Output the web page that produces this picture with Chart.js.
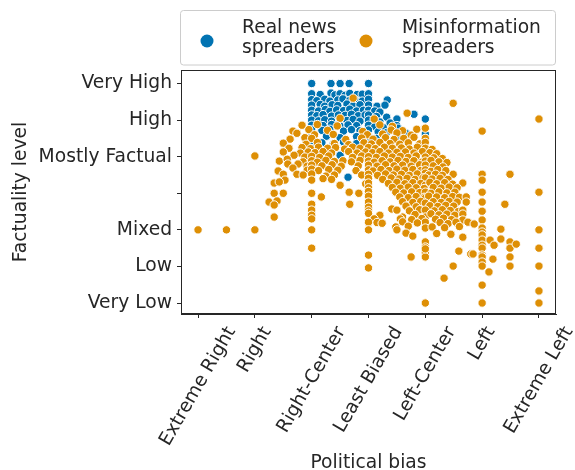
<!DOCTYPE html>
<html><head><meta charset="utf-8">
<script src="https://cdn.jsdelivr.net/npm/chart.js@4.4.1/dist/chart.umd.min.js"></script>
<style>html,body{margin:0;padding:0;background:#fff}#wrap{width:575px;height:470px;position:relative}</style>
</head><body><div id="wrap"><canvas id="c" width="575" height="470" style="width:575px;height:470px"></canvas></div>
<script>
const xTickLabels = ['Extreme Right','Right','Right-Center','Least Biased','Left-Center','Left','Extreme Left'];
const yTickLabels = ['Very Low','Low','Mixed','','Mostly Factual','High','Very High'];
const seriesLabels = ['Real news\nspreaders','Misinformation\nspreaders'];
const xTitle = 'Political bias';
const yTitle = 'Factuality level';

const realPoints = [
[2.0,6.0],[2.34,6.0],[2.5,6.0],[2.66,6.0],[3.0,6.0],
[2.0,5.72],[2.15,5.7],[2.34,5.74],[2.41,5.69],[2.5,5.72],[2.59,5.68],[2.67,5.73],[2.8,5.7],[2.89,5.71],[3.0,5.72],
[2.0,5.56],[2.09,5.53],[2.23,5.57],[2.32,5.52],[2.46,5.55],[2.55,5.58],[2.67,5.54],[2.76,5.56],[2.89,5.52],[3.0,5.57],[3.33,5.55],
[2.0,5.41],[2.15,5.43],[2.23,5.38],[2.36,5.42],[2.46,5.4],[2.62,5.44],[2.73,5.39],[2.85,5.42],[3.0,5.41],[3.15,5.38],[3.29,5.41],
[2.0,5.27],[2.12,5.25],[2.24,5.29],[2.32,5.24],[2.44,5.28],[2.56,5.26],[2.67,5.3],[2.79,5.25],[2.91,5.27],[3.0,5.27],[3.11,5.25],[3.2,5.22],
[2.0,5.14],[2.09,5.12],[2.2,5.15],[2.35,5.11],[2.47,5.14],[2.59,5.13],[2.7,5.16],[2.82,5.12],[2.94,5.14],[3.0,5.14],[3.14,5.1],[3.32,5.08],[3.5,5.03],[3.8,5.16],
[2.0,5.0],[2.12,4.98],[2.23,5.01],[2.35,4.97],[2.5,5.0],[2.62,4.99],[2.73,5.02],[2.85,4.97],[3.0,5.0],[3.2,4.95],[3.38,4.92],[3.5,4.85],[4.0,5.03],
[2.0,4.86],[2.2,4.85],[2.35,4.88],[2.5,4.84],[2.64,4.87],[2.79,4.85],[3.0,4.86],[3.11,4.82],[3.26,4.8],[3.52,4.78],
[2.0,4.73],[2.18,4.72],[2.32,4.75],[2.56,4.7],[2.7,4.74],[2.85,4.71],[3.0,4.73],[3.17,4.68],[3.32,4.66],[3.5,4.55],[3.66,4.64],[4.0,4.62],
[2.0,4.55],[2.26,4.56],[2.5,4.52],[2.79,4.55],[3.0,4.56],[3.14,4.5],[4.0,4.5],
[2.0,4.37],[2.18,4.38],[2.38,4.35],[2.56,4.4],[2.79,4.36],[3.0,4.38],
[2.0,4.22],[2.5,4.04],[2.64,3.44],[2.32,4.15],[4.0,4.04],[3.0,4.2]
];

const misPoints = [
[2.73,5.6],[4.49,5.46],[3.68,5.19],[2.5,5.05],[3.1,5.03],[6.0,5.03],[5.0,4.7],
[1.83,4.86],[2.1,4.88],[2.45,4.84],[3.2,4.87],[3.42,4.83],
[1.67,4.7],[1.95,4.74],[2.28,4.72],[2.9,4.69],[3.4,4.73],[3.6,4.71],[3.85,4.75],[4.0,4.78],
[1.74,4.64],[2.05,4.6],[2.38,4.61],[2.98,4.6],[3.25,4.62],[3.5,4.65],[3.75,4.59],
[1.62,4.48],[1.88,4.52],[2.0,4.5],[2.6,4.47],[2.88,4.51],[3.08,4.48],[3.3,4.52],[3.45,4.47],[3.62,4.5],[3.8,4.53],[4.0,4.5],
[1.5,4.37],[1.9,4.34],[2.1,4.39],[2.4,4.36],[2.65,4.33],[2.92,4.38],[3.05,4.35],[3.2,4.39],[3.38,4.36],[3.55,4.34],[3.7,4.38],[3.9,4.35],[4.0,4.39],
[1.6,4.23],[1.83,4.25],[1.98,4.22],[2.12,4.26],[2.28,4.23],[2.42,4.25],[2.58,4.21],[2.72,4.26],[2.85,4.23],[3.0,4.25],[3.12,4.22],[3.28,4.26],[3.42,4.23],[3.58,4.24],[3.72,4.21],[3.86,4.26],[4.0,4.23],[4.12,4.2],
[1.5,4.13],[1.8,4.1],[1.94,4.13],[2.06,4.11],[2.2,4.14],[2.35,4.1],[2.65,4.14],[2.8,4.1],[2.95,4.13],[3.07,4.11],[3.2,4.14],[3.35,4.1],[3.5,4.12],[3.65,4.13],[3.8,4.1],[3.95,4.14],[4.08,4.11],[4.2,4.08],
[1.0,4.02],[1.69,4.04],[1.88,3.99],[2.0,4.01],[2.14,3.98],[2.3,4.02],[2.72,3.98],[2.88,4.02],[3.0,4.0],[3.14,3.98],[3.28,4.02],[3.42,3.99],[3.56,4.01],[3.7,3.98],[3.84,4.02],[4.0,3.99],[4.15,3.97],[4.3,3.95],
[1.43,3.88],[1.57,3.93],[1.85,3.86],[2.0,3.89],[2.1,3.85],[2.25,3.9],[2.4,3.87],[2.55,3.89],[2.7,3.86],[2.85,3.9],[3.0,3.88],[3.1,3.85],[3.24,3.89],[3.38,3.86],[3.52,3.9],[3.66,3.87],[3.8,3.89],[3.94,3.85],[4.0,3.88],[4.1,3.9],[4.24,3.86],[4.38,3.84],
[1.58,3.8],[1.76,3.8],[1.92,3.74],[2.0,3.77],[2.18,3.75],[2.36,3.78],[2.52,3.74],[2.82,3.75],[3.0,3.77],[3.15,3.74],[3.3,3.78],[3.45,3.75],[3.6,3.77],[3.75,3.74],[3.9,3.78],[4.0,3.77],[4.14,3.75],[4.31,3.72],
[1.41,3.61],[1.67,3.69],[1.92,3.63],[2.0,3.66],[2.12,3.62],[2.3,3.65],[2.46,3.63],[2.78,3.62],[3.0,3.64],[3.08,3.61],[3.22,3.65],[3.36,3.62],[3.5,3.66],[3.64,3.63],[3.78,3.65],[3.92,3.62],[4.0,3.64],[4.1,3.6],[4.22,3.65],[4.36,3.62],
[1.5,3.52],[1.74,3.52],[1.85,3.5],[2.0,3.53],[2.25,3.47],[2.4,3.5],[2.88,3.5],[3.0,3.52],[3.16,3.49],[3.3,3.53],[3.44,3.5],[3.58,3.52],[3.72,3.49],[3.86,3.53],[4.0,3.55],[4.06,3.5],[4.18,3.52],[4.3,3.49],[4.49,3.52],[5.0,3.52],[5.49,3.52],
[1.34,3.28],[1.53,3.36],[1.43,3.31],[2.0,3.36],[2.2,3.4],[2.35,3.38],[3.0,3.41],[3.25,3.38],[3.4,3.42],[3.54,3.39],[3.68,3.41],[3.82,3.38],[3.96,3.42],[4.0,3.42],[4.12,3.39],[4.26,3.41],[4.4,3.38],[5.0,3.36],
[2.5,3.22],[2.95,3.26],[3.0,3.28],[3.35,3.27],[3.5,3.3],[3.64,3.26],[3.78,3.29],[3.92,3.27],[4.0,3.22],[4.08,3.3],[4.2,3.26],[4.34,3.29],[4.48,3.25],[4.66,3.28],
[3.0,3.15],[3.42,3.16],[3.56,3.14],[3.7,3.17],[3.84,3.15],[3.98,3.13],[4.14,3.16],[4.28,3.14],[4.42,3.17],[4.56,3.15],
[1.34,3.0],[1.5,3.0],[2.0,3.0],[2.66,3.03],[2.83,3.0],[3.0,3.05],[3.48,3.03],[3.62,3.01],[3.76,3.04],[3.9,3.02],[4.0,3.03],[4.1,3.0],[4.24,3.04],[4.38,3.01],[4.52,3.03],[5.0,3.03],[6.0,3.03],
[2.17,2.9],[3.0,2.92],[3.55,2.9],[3.7,2.88],[3.84,2.91],[3.98,2.89],[4.0,2.87],[4.06,2.92],[4.2,2.9],[4.34,2.88],[4.48,2.91],[4.6,2.89],[4.72,2.9],
[1.25,2.76],[1.39,2.79],[2.67,2.7],[3.0,2.76],[3.6,2.77],[3.78,2.75],[3.92,2.78],[4.0,2.73],[4.14,2.77],[4.28,2.75],[4.42,2.78],[4.56,2.76],[4.72,2.76],[5.0,2.76],[5.4,2.7],
[1.34,2.68],[2.0,2.7],[3.0,2.62],[3.41,2.57],[3.66,2.65],[3.84,2.63],[4.08,2.66],[4.22,2.64],[4.36,2.67],[4.5,2.65],
[2.0,2.54],[3.0,2.52],[3.5,2.54],[3.72,2.52],[3.9,2.55],[4.0,2.54],[4.16,2.52],[4.3,2.55],[4.44,2.53],[4.58,2.5],[4.66,2.54],[5.0,2.51],
[2.0,2.4],[3.0,2.45],[3.2,2.4],[3.6,2.35],[3.82,2.42],[4.0,2.35],[4.1,2.44],[4.24,2.41],[4.38,2.43],[4.52,2.4],[4.66,2.43],
[1.34,2.35],[2.0,2.3],[3.1,2.3],[3.56,2.3],[3.76,2.28],[3.94,2.31],[4.0,2.21],[4.18,2.29],[4.32,2.32],[4.46,2.28],[4.66,2.27],[5.0,2.27],
[3.0,2.21],[3.15,2.2],[3.24,2.18],[3.6,2.22],[3.86,2.19],[4.26,2.2],[4.4,2.17],[4.54,2.21],[4.75,2.21],[4.86,2.16],
[3.48,2.08],[3.7,2.1],[4.0,2.05],[4.12,2.08],[4.34,2.06],[4.6,2.09],[5.0,2.05],
[0.0,2.0],[0.5,2.0],[1.0,2.0],[2.0,2.0],[3.0,2.0],[3.5,2.0],[5.33,2.02],[6.0,2.0],
[3.66,1.91],[3.78,1.83],[4.2,1.9],[4.45,1.88],[4.66,1.8],[5.0,1.94],[5.0,1.86],[5.0,1.72],[5.0,1.58],[5.0,1.5],[5.0,1.31],[5.0,1.26],[5.0,1.12],[5.0,1.01],[5.0,0.49],[5.0,0.0],
[4.0,1.67],[4.0,1.53],[4.0,1.37],[4.0,1.26],[4.0,0.0],[4.0,1.48],
[5.14,1.72],[5.21,1.58],[5.33,1.75],[5.49,1.67],[5.49,1.5],[5.6,1.61],[5.49,1.26],[5.49,1.01],[5.19,1.2],[5.12,0.85],
[4.49,1.01],[4.33,0.68],[4.59,1.42],[4.8,1.34],[4.84,1.34],[3.75,1.26],[3.0,1.31],[3.0,0.96],[2.0,1.5],[6.0,1.5],[6.0,1.01],[6.0,0.33],[6.0,0.0]
];

const FONT = '"DejaVu Sans", sans-serif';
const FS = 18.7;
const INK = '#262626';
const tickVals = xTickLabels.map((_, i) => i);

const decor = {
  id: 'decor',
  afterDraw(chart) {
    const ctx = chart.ctx, a = chart.chartArea, xs = chart.scales.x;
    ctx.save();
    ctx.strokeStyle = INK; ctx.lineWidth = 1;
    ctx.strokeRect(Math.round(a.left) + 0.5, Math.round(a.top) + 0.5, Math.round(a.right - a.left) - 1, Math.round(a.bottom - a.top) - 1);
    ctx.font = FS + 'px ' + FONT; ctx.fillStyle = INK;
    const ang = 60 * Math.PI / 180, h = FS * 1.17;
    xs.ticks.forEach(t => {
      const lab = xTickLabels[t.value];
      const w = ctx.measureText(lab).width;
      const bh = w * Math.sin(ang) + h * Math.cos(ang);
      const cx = xs.getPixelForValue(t.value), cy = a.bottom + 9 + bh / 2;
      ctx.save(); ctx.translate(cx, cy); ctx.rotate(-ang);
      ctx.textAlign = 'center'; ctx.textBaseline = 'middle';
      ctx.fillText(lab, 0, 0); ctx.restore();
    });
    ctx.textAlign = 'center'; ctx.textBaseline = 'alphabetic';
    ctx.fillText(xTitle, (a.left + a.right) / 2, 468);
    ctx.save(); ctx.translate(26, (a.top + a.bottom) / 2); ctx.rotate(-Math.PI / 2);
    ctx.fillText(yTitle, 0, 0); ctx.restore();
    ctx.beginPath();
    if (ctx.roundRect) ctx.roundRect(180.5, 10.5, 375, 54.5, 3); else ctx.rect(180.5, 10.5, 375, 54.5);
    ctx.fillStyle = 'rgba(255,255,255,0.8)'; ctx.fill();
    ctx.strokeStyle = '#cccccc'; ctx.lineWidth = 1; ctx.stroke();
    const ent = [{cx: 207, tx: 242}, {cx: 366, tx: 402}];
    chart.data.datasets.forEach(ds => {
      const e = ent[ds.legendIndex];
      ctx.beginPath(); ctx.arc(e.cx, 41, 6.5, 0, Math.PI * 2);
      ctx.fillStyle = ds.backgroundColor; ctx.fill();
      ctx.fillStyle = INK; ctx.textAlign = 'left'; ctx.textBaseline = 'alphabetic';
      ds.label.split('\n').forEach((ln, k) => ctx.fillText(ln, e.tx, 33 + k * 19.5));
    });
    ctx.restore();
  }
};

const axisCommon = {
  type: 'linear',
  grid: { drawOnChartArea: false, drawTicks: true, tickLength: 4, color: INK, lineWidth: 1 },
  border: { display: true, color: INK, width: 1 }
};

new Chart(document.getElementById('c'), {
  type: 'scatter',
  data: {
    datasets: [
      { label: seriesLabels[1], legendIndex: 1, data: misPoints.map(p => ({x: p[0], y: p[1]})),
        backgroundColor: '#DE8F05', borderColor: '#ffffff', borderWidth: 1, pointRadius: 4.2, order: 1 },
      { label: seriesLabels[0], legendIndex: 0, data: realPoints.map(p => ({x: p[0], y: p[1]})),
        backgroundColor: '#0173B2', borderColor: '#ffffff', borderWidth: 1, pointRadius: 4.2, order: 2 }
    ]
  },
  options: {
    responsive: false, animation: false, devicePixelRatio: 1,
    layout: { padding: { top: 70, right: 19, bottom: 0, left: 0 } },
    plugins: { legend: { display: false }, tooltip: { enabled: false } },
    scales: {
      x: Object.assign({}, axisCommon, {
        min: -0.3, max: 6.3,
        afterBuildTicks: s => { s.ticks = tickVals.map(v => ({value: v})); },
        ticks: { display: false },
        afterFit: s => { s.height = 156; }
      }),
      y: Object.assign({}, axisCommon, {
        min: -0.3, max: 6.37,
        afterBuildTicks: s => { s.ticks = yTickLabels.map((_, i) => ({value: i})); },
        ticks: { callback: v => yTickLabels[v], font: { family: FONT, size: FS }, color: INK, padding: 5, autoSkip: false },
        afterFit: s => { s.width = 181; }
      })
    }
  },
  plugins: [decor]
});
</script></body></html>
